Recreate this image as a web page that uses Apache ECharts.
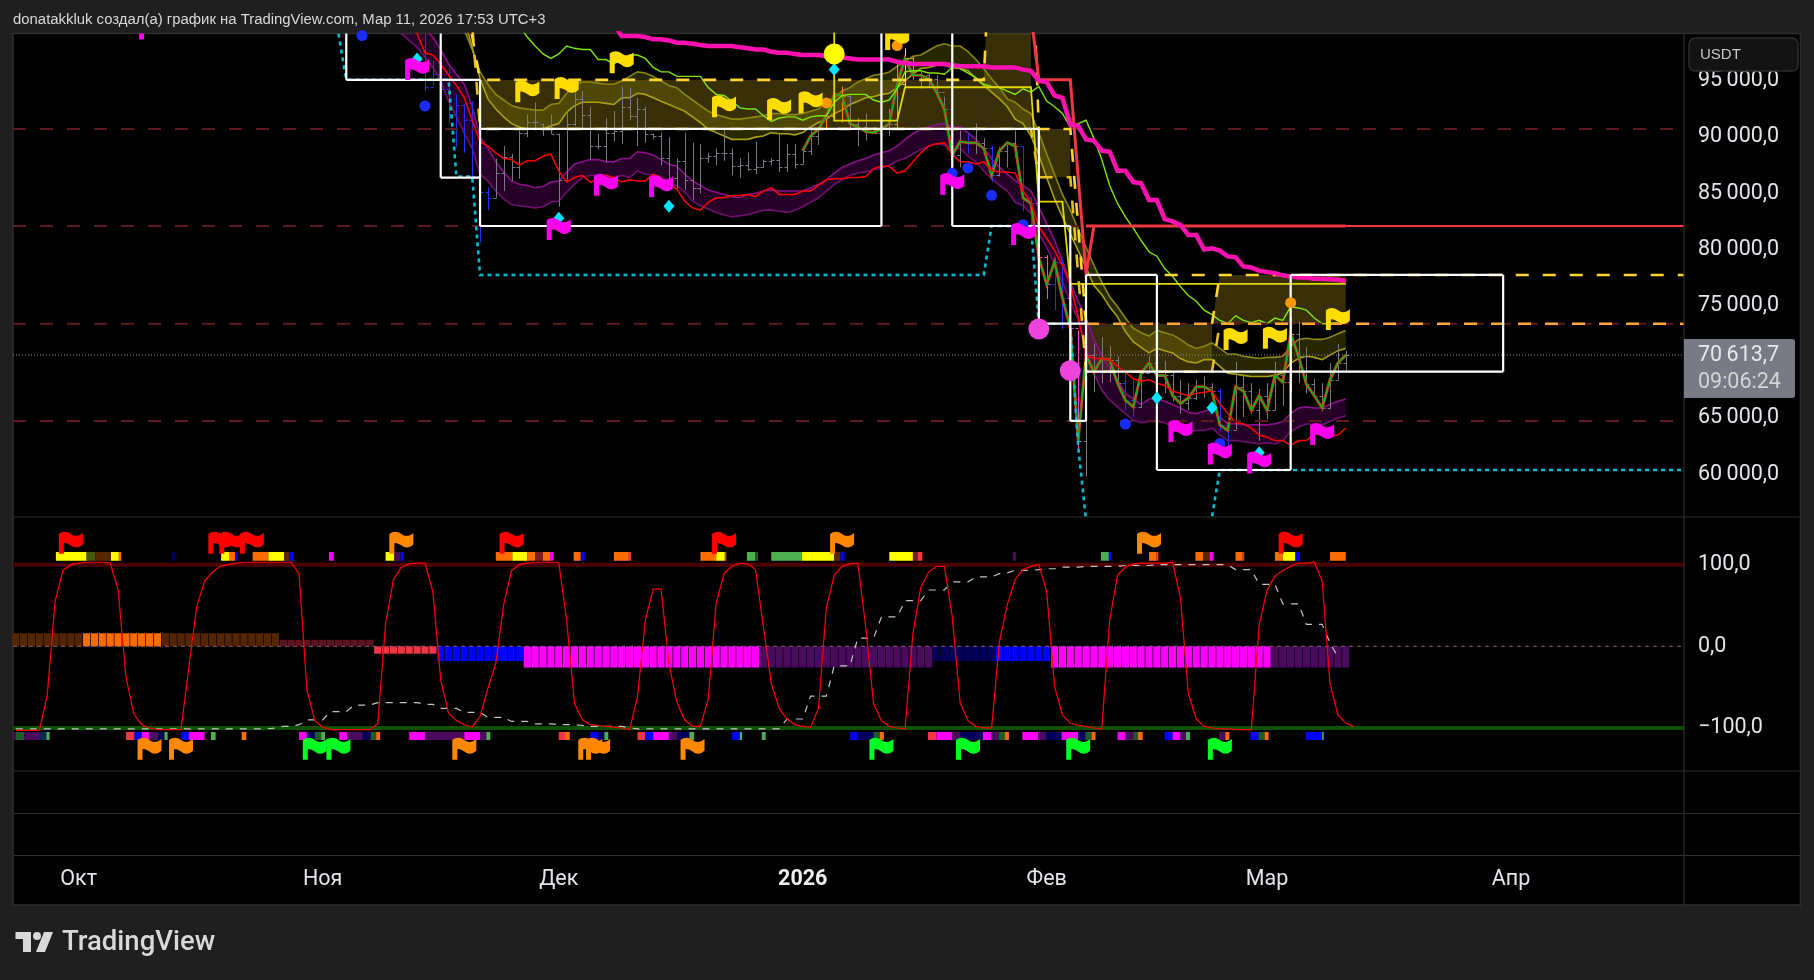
<!DOCTYPE html>
<html><head><meta charset="utf-8">
<script src="https://cdn.jsdelivr.net/npm/echarts@6/dist/echarts.min.js"></script>
<style>html,body{margin:0;padding:0;background:#1f1f1f}#c{width:1814px;height:980px}</style>
</head><body><div id="c"></div>
<script>
// x values are days counted from 1 Oct 2025
const monthDays=[0,31,61,92,123,151,182];
const monthLabels=['Окт','Ноя','Дек','2026','Фев','Мар','Апр'];
const priceTicks=[60000,65000,70000,75000,80000,85000,90000,95000];
const priceTickLabels=['60\u2009000,0','65\u2009000,0','70\u2009000,0','75\u2009000,0','80\u2009000,0','85\u2009000,0','90\u2009000,0','95\u2009000,0'];
const oscTicks=[-100,0,100];
const oscTickLabels=['\u2212100,0','0,0','100,0'];
const lastPrice=70613.7;
const dashedLevels=[90727,82090,73400,64750];

// OHLC bars, first bar is day 44
const barsStart=44;
const barHigh=[99800,96800,96600,96100,93800,92900,93200,87500,85500,88100,89200,88500,90600,92000,93100,91200,92000,90300,92300,94200,94100,92700,90300,91700,92300,94500,94400,93500,92700,90300,90400,90000,88100,90400,89500,89400,88600,89000,90700,89000,88100,88600,89600,88000,88100,90400,89400,89400,
88800,91000,90700,91600,94700,94500,93700,91700,92100,90900,91000,92500,96800,97900,97200,95800,95600,95500,93600,92900,90600,90400,91200,89900,89200,89100,89300,90600,89200,84600,84200,79500,79300,79200,76900,72800,71200,71600,72200,71400,70500,69100,68400,68700,70500,69700,70100,69200,68400,68100,68400,68700,68100,67600,64800,70000,68800,68100,67600,68100,70000,69400,74000,73600,71300,68500,68100,69900,71600,71000];
const barLow=[94100,94600,93000,91300,89100,88600,86200,80600,83500,84600,85200,86100,86300,90000,90600,90100,90300,83800,86200,91000,90700,88000,88900,87800,89600,89400,91500,89200,89500,89800,87500,85200,85200,85300,84400,85000,87700,87500,87900,86600,86400,87000,86700,87300,87500,86900,86900,87200,
87600,88400,89300,90600,91400,91300,90700,89200,89700,90300,90300,90100,90700,94400,95100,94300,94400,93500,92100,87800,87300,88500,88500,88800,86000,86500,87300,88200,83400,81100,73400,75600,74600,72900,72800,62200,59800,67300,68100,68200,67900,65700,65100,65900,69000,67700,67200,66500,65400,65700,66600,66800,67200,63900,62500,64000,65100,65400,63000,64900,65700,66100,67300,68100,67200,67200,65600,65800,68400,69000];
const barOpen=[99700,94500,95600,94300,92100,92900,91500,86500,85100,84600,86800,88200,87300,90400,91300,91200,90700,90300,86200,91200,93400,92000,89200,89200,90400,90500,92700,91900,92500,90300,90100,88100,86400,87900,86200,85500,88100,88300,88600,88600,87400,87500,87200,87300,87900,88000,87300,88500];
const barClose=[94500,95600,94300,92100,92900,91500,86500,85100,84600,86800,88200,87300,90400,91300,91300,90700,90300,86200,91200,93400,92000,89200,89200,90400,90500,92700,91900,92500,90300,90100,88100,86400,87900,86200,85500,88100,88300,88600,88600,87400,87500,87200,87300,87900,88000,87300,88500,87600];
// closing price line, first point is day 92
const closeStart=92;
const closeLine=[88800,90100,90700,91900,93800,93700,91200,90900,90500,90400,90700,91200,94700,97000,95500,95500,95200,94000,92500,88400,89600,89500,89500,89000,86600,88800,89500,89200,84600,84100,79300,76900,78900,75700,73000,63000,70600,69100,70300,70200,68100,66600,66000,69000,69900,68800,68800,67000,66300,66800,67800,67800,67400,64400,63900,67800,67400,65700,67000,65700,68800,68200,72500,70500,68000,67000,65900,68400,69900,70600];
const blueBars=[44,45,46,47,48,49,50,51,52,111,113,116,120,121,124,125,133,134,145,146];
const pinkBars=[122,123,126,127];
const orangeBars=[95,96,97,104,106,154];
const yellowBars=[105];

const redStart=42;
const redLine=[101000,99200,97500,97300,96500,95500,94600,93500,91500,89600,89200,88600,88100,88000,87500,87900,87900,88300,88500,87000,86000,86400,86600,86000,86200,86600,86400,86000,86200,86100,86100,86700,86400,85700,85400,84300,83700,83500,84200,84600,84600,84800,84800,84900,84700,85200,85500,84900,84900,84900,85200,85200,85700,86200,86300,86300,86400,86400,86500,87200,87400,87400,86800,87000,87800,88600,89200,89400,89500,88400,87800,87800,87600,87800,87000,86900,86900,86800,85200,84200,82000,81000,79900,78600,76900,74000,70600,70300,70300,70200,69600,69100,68500,68300,68400,68100,67900,67400,67200,67000,67200,67300,67400,66300,65400,64600,64500,64100,63500,63300,63000,63000,62600,63000,63000,63600,63500,63400,63500,64100];
const limeStart=56;
const limeLine=[99900,98900,98100,97400,97000,97400,98100,97900,97800,97800,96900,96900,96500,97000,97300,97300,97000,96200,95800,95800,95400,95400,95400,95400,94400,93800,93700,93200,92600,92500,92500,91900,91400,91700,91800,91800,91500,91800,91900,91900,93100,93700,93800,93800,93800,93300,93100,93300,94300,95800,95900,95900,95700,95700,95600,96200,96100,95700,95300,94700,94500,94400,94100,93800,94300,94000,94500,93200,92700,92100,90900,91200,91500,89900,88000,85700,84100,82900,81900,80800,79800,79400,78300,77600,76700,75900,75400,74600,74200,73700,73400,74100,73700,73500,73700,73400,73900,73700,74900,74800,74600,73900,73400,73400,73500];
const magentaStart=68;
const magentaLine=[100000,99000,99000,99000,98900,98700,98700,98600,98400,98400,98300,98200,98100,98100,98100,98100,98000,97900,97800,97800,97600,97500,97500,97400,97300,97300,97300,97200,97200,97100,97000,96900,96900,96900,96900,96900,96700,96600,96500,96500,96500,96500,96500,96400,96300,96300,96300,96300,96200,96200,96200,96200,96000,95900,95000,94900,93700,93500,91100,91000,89800,89700,88800,88700,87000,87000,86000,85900,84400,84400,82700,82500,82200,81300,81300,80000,80100,79900,79400,79300,78500,78400,78100,78000,77900,77700,77600,77500,77500,77400,77400,77350,77300,77200];
const oliveStart=49;
const oliveUpper=[99500,97800,95800,94700,93800,93300,92800,92600,92500,92400,92400,92900,93000,93900,94600,94900,94900,94800,94700,94700,95000,95400,95800,95700,95400,95000,94600,94400,93800,93300,92800,92300,92000,91800,91600,91600,91700,91800,91900,92100,92100,92000,92000,92100,92300,92500,93200,93500,94100,94400,94900,95200,95500,95600,95800,96300,96700,97200,97300,97700,98100,98300,98100,98100,97600,96900,96100,95200,94400,93400,93100,92500,92100,90400,88500,86700,84900,83500,81800,80200,78600,77100,75800,74900,73900,73000,72600,72300,72800,72600,72400,72000,71500,71200,71400,71700,71200,70700,70700,70500,70400,70300,70400,70400,70500,71400,72000,72100,72000,72000,72200,72500,72800];
const oliveLower=[100500,98000,95200,93400,92500,91800,91200,90900,90700,90700,90700,91000,91200,92200,92800,93100,93100,93100,93000,92900,93500,93500,93900,93800,93500,93200,92900,92600,92300,91800,91300,90700,90400,90100,89800,89800,89800,90000,90100,90400,90300,90300,90200,90400,90900,91300,91600,92100,92400,92900,93200,93500,93600,93800,93900,94400,95000,95600,96100,96200,96400,96400,96200,96100,95900,95200,94600,94000,93400,92700,91600,91200,90100,88400,86400,84500,82900,81400,79900,78400,76800,76000,74900,74000,72700,71800,71300,70800,71200,71000,70800,70300,70000,69900,70200,70200,69600,69000,68900,68800,68700,68700,68700,68800,69000,69900,70300,70500,70400,70200,70600,71000,71200];
const purpleStart=41;
const purpleUpper=[101300,100700,100100,99600,98900,97800,96500,95600,94700,92700,90000,89000,87800,86900,86100,85800,85700,85500,85600,86000,86100,86900,87600,87800,88000,88000,87800,87800,88100,88100,88700,88600,88400,88000,87600,87400,86700,86100,85700,85300,85100,84900,84700,84600,84900,85000,85200,85300,85200,85200,85200,85200,85500,85800,86200,86800,87300,87600,87900,88100,88400,88600,88800,89200,89800,90300,90700,90900,91100,91200,90900,90900,90400,89800,89000,88100,87300,86700,86100,85700,85200,83800,82300,80800,79000,77100,75400,73900,72000,70600,69400,68400,67200,66700,66200,66700,66700,66500,66200,65900,65500,65400,65600,65800,65100,64500,64500,64400,64400,64400,64400,64500,64700,65400,65900,66000,65900,65900,66200,66500,66700];
const purpleLower=[99200,98600,98000,97100,96200,95000,93200,91800,90300,89000,86700,86100,85200,84500,84000,83900,83800,83700,83800,84200,84300,85100,85800,86400,86600,86600,86400,86300,86600,86400,87000,86700,86600,86300,85800,85700,85100,84300,83900,83600,83300,83100,82900,83000,83100,83300,83500,83500,83400,83300,83500,83800,84200,84600,85200,85800,86200,86600,86800,86900,87100,87200,87500,87900,88100,88500,88900,89200,89400,89300,89000,89000,88300,87800,87000,86300,85700,85200,84200,83900,83200,81400,80200,78700,77100,75400,73700,71400,69000,67500,66600,66000,65400,64800,64600,64700,64700,64600,64200,63900,63800,63900,63900,64100,63500,63000,63000,62900,62800,62700,62800,62700,63000,63800,64200,64500,64400,64400,64700,65000,65200];

const thickRedDays=[121,122,126,128,129,161];
const thickRedValues=[101000,95100,95100,77800,82090,82090];
const redShelfDays=[128,129];
const redShelfValues=[82090,82090];
const redTailDays=[161,204];
const redTailValues=[82090,82090];
const yellowStepDays=[96,96,104,105,121,122,125,126,161];
const yellowStepValues=[110000,91469,91469,94436,94436,84260,84260,76933,76933];
const dashUpperDays=[49,50,51,115,116,121,122,126,128];
const dashUpperValues=[101500,99000,95088,95088,110000,110000,90727,90727,73400];
const dashLowerDays=[49,50,51,121,122,126,128,144,145];
const dashLowerValues=[102000,100000,90727,90727,86425,86425,69130,69130,73400];
const dashRiseDays=[144,145];
const dashRiseValues=[73400,77734];
const dashTopDays=[138,204];
const dashTopValues=[77734,77734];
const dashMidDays=[128,204];
const dashMidValues=[73400,73400];
const cyanDays=[33,34,47,48,50,51,115,116,121,122,126,127,128,129,143,144,145,204];
const cyanValues=[99200,95100,95100,86484,86484,77734,77734,82090,82090,73400,73400,62450,55900,50000,50000,56200,60380,60380];
// zones: first day, last day, upper edge, lower edge
const zoneDays=[[51,115],[115,116],[116,121],[122,126],[128,144],[144,145],[145,161]];
const zoneUpper=[[95088,95088],[95088,110000],[110000,110000],[90727,90727],[73400,73400],[73400,77734],[77734,77734]];
const zoneLower=[[90727,90727],[90727,90727],[90727,90727],[86425,86425],[69130,69130],[73400,73400],[73400,73400]];
// white box edges: x0, value0, x1, value1
const boxEdges=[[34,95100,51,95100],[34,95100,34,110000],[46,86400,46,110000],[46,86400,51,86400],[51,95100,51,82090],[51,90727,122,90727],[51,82090,102,82090],[102,82090,102,110000],[111,82090,111,110000],[111,82090,126,82090],[122,90727,122,73400],[122,73400,128,73400],[126,82090,126,64750],[126,64750,128,64750],[128,77734,128,64750],[128,77734,137,77734],[137,77734,137,60380],[137,60380,154,60380],[154,77734,154,60380],[128,69130,181,69130],[154,77734,181,77734],[181,77734,181,69130]];

const blueDots=[[36,99035],[44,92774],[111,86780],[113,87256],[116,84823],[120,82211],[133,64471],[145,62750]];
const cyanDiamonds=[[43,96958],[61,82775],[75,83844],[96,96008],[137,66786],[144,65925],[150,61920]];
const yellowDots=[[96,97403]];
const orangeDots=[[95,93041],[104,98145],[154,75271]];
const pinkDots=[[122,72925],[126,69219]];
const magentaFlags=[[9.2,99672],[43,96068],[61,81826],[67,85772],[74,85624],[111,85832],[120,81381],[140,63848],[145,61860],[150,61059],[158,63581]];
const yellowFlags=[[57,94080],[62,94376],[69,96660],[82,92745],[89,92507],[93,93100],[104,98738],[147,72037],[152,72156],[160,73817]];

// oscillator pane
const oscStart=-8;
const oscRed=[-103,-103,-103,-103,-60,55,93,100,102,103,103,103,102,70,-37,-83,-96,-100,-102,-102,-102,-102,-25,49,80,91,98,100,102,103,103,103,103,103,103,103,89,-53,-91,-99,-102,-102,-102,-102,-102,-102,-95,28,82,97,101,102,102,67,-41,-82,-91,-96,-99,-86,-51,-21,51,93,100,102,103,103,103,103,32,-70,-90,-96,-97,-98,-99,-100,-102,-62,32,70,70,-21,-68,-90,-98,-98,-64,53,89,98,102,101,94,24,-45,-76,-89,-96,-98,-99,-76,47,87,98,101,102,24,-70,-91,-98,-100,-101,16,72,91,98,98,36,-69,-91,-98,-100,-100,6,51,82,94,98,100,67,-49,-84,-94,-97,-98,-100,-101,32,87,97,101,102,102,102,102,103,59,-58,-89,-98,-100,-101,-101,-102,-102,-102,26,69,86,93,98,102,102,103,80,-45,-84,-94,-98];
const oscGray=[-101,-101,-101,-101,-101,-101,-101,-101,-101,-101,-101,-101,-101,-101,-101,-101,-101,-101,-101,-101,-101,-101,-101,-101,-101,-101,-101,-101,-101,-101,-101,-101,-101,-100,-98,-98,-96,-90,-90,-90,-80,-80,-80,-72,-72,-72,-69,-69,-69,-69,-69,-69,-71,-71,-76,-76,-76,-81,-81,-81,-87,-87,-87,-92,-92,-92,-95,-95,-95,-96,-96,-96,-97,-98,-98,-98,-98,-98,-100,-101,-101,-101,-101,-101,-101,-101,-101,-101,-101,-101,-101,-101,-101,-101,-101,-101,-101,-101,-89,-89,-89,-61,-61,-61,-24,-24,-24,10,10,10,36,36,36,56,56,56,69,69,69,79,79,79,85,85,85,89,90,93,93,93,94,95,95,97,97,97,98,98,98,98,98,99,99,99,99,100,100,100,100,100,100,100,100,100,100,94,94,94,76,76,76,52,52,52,27,27,27,4,-13];
// histogram runs: first day, last day, value, colour
const histRuns=[[-8,0,16,'#552400'],[1,10,16,'#ff6d00'],[11,25,16,'#552400'],[26,37,8,'#5a1520'],[38,45,-9,'#f23645'],[46,56,-18,'#0000ff'],[57,86,-26,'#ff00ff'],[87,108,-26,'#4a0a5e'],[109,116,-18,'#00005c'],[117,123,-18,'#0000ff'],[124,151,-26,'#ff00ff'],[152,161,-26,'#4a0a5e']];
const Y='#ffff00',O='#ff6d00',B='#0000ff',M='#ff00ff',P='#4a0a5e',N='#00005c',G='#4caf50',D='#1f5a2a',W='#5a2800',R='#f23645',K='#7a2020';
const topStrip=[[-2.9,1,Y],[1,2.1,'#4a5a10'],[2.1,4.1,W],[4.1,5.1,Y],[5.1,5.4,O],[11.8,12.3,N],[18.1,19.1,Y],[19.1,19.9,O],[19.9,20.2,B],[22.1,24.1,O],[24.1,26.1,Y],[26.1,26.8,W],[26.8,27.3,B],[31.8,32.4,M],[39,40.1,Y],[40.1,40.9,P],[40.9,41.3,B],[53,55.1,O],[55.1,57,Y],[57,58,O],[58,59,K],[59,59.9,O],[59.9,60.3,M],[62.9,63.8,O],[63.8,64.3,B],[68,69.9,O],[69.9,70.2,R],[79,81,O],[81,82.1,Y],[82.1,82.3,R],[84.9,86,G],[86,86.3,D],[88,91.9,G],[91.9,96,Y],[96,96.8,W],[96.8,97.3,B],[103,106,Y],[106,106.6,K],[106.6,107.2,R],[118.7,119.1,P],[129.9,130.9,G],[130.9,131.2,B],[136,136.9,O],[136.9,137.2,R],[141.9,142.9,O],[142.9,143.7,W],[143.7,144.2,M],[147,147.9,O],[147.9,148.1,R],[152,153,O],[153,154.6,Y],[154.6,155.2,B],[159,161,O]];
const bottomStrip=[[-8.4,-8,P],[-8,-6.9,D],[-6.9,-4.9,P],[-4.9,-4.1,'#0a2a50'],[-4.1,-3.7,G],[6,7.1,R],[7.1,8,B],[8,9,M],[9,10.1,P],[10.1,10.9,N],[10.9,11.3,G],[13,14,B],[14,16,M],[16.8,17.4,G],[20.7,21.3,O],[28,29,M],[29,30,N],[30,30.8,D],[30.8,31.3,G],[33.1,34.1,M],[34.1,36.1,P],[36.1,37.1,N],[37.1,37.8,D],[37.8,38.3,O],[42,44,M],[44,49,P],[49,51,M],[51,51.8,P],[51.8,52.3,G],[61,61.8,R],[61.8,62.4,O],[65,66,B],[66,66.8,N],[66.8,67.3,G],[71,72,R],[72,73,B],[73,75,M],[75,76.1,P],[76.1,77.6,N],[77.6,78.2,G],[83,84,B],[84,84.3,G],[86.8,87.3,G],[98,99,B],[99,101,N],[101,101.8,D],[101.8,102.3,O],[107.9,109,R],[109,111,M],[111,112,P],[112,114.9,N],[114.9,116,M],[116,116.9,P],[116.9,117.7,D],[117.7,118.2,O],[119.9,121.9,M],[121.9,122.9,P],[122.9,124.9,N],[124.9,127,M],[127,127.9,N],[127.9,128.7,D],[128.7,129.2,O],[132,133,M],[133,134,P],[134,134.6,D],[134.6,135.2,O],[138,139,B],[139,140,M],[140,140.7,P],[140.7,141.2,G],[144.9,145.7,P],[145.7,146.2,O],[148.9,149.9,B],[149.9,150.7,D],[150.7,151.2,O],[155.9,158,B],[158,158.2,G]];
const stripTopBand=[104.8,115.5], stripBottomBand=[-114.7,-104.9];
const redFlagsOsc=[[-1,127],[18,127],[19.4,127],[22,127],[55,127],[82,127],[154,127]];
const orangeFlagsOsc=[[41,127],[97,127],[136,127],[9,-125.4],[13,-125.4],[49,-125.4],[65,-125.4],[66,-125.4],[78,-125.4]];
const greenFlagsOsc=[[30,-125.4],[33,-125.4],[102,-125.4],[113,-125.4],[127,-125.4],[145,-125.4]];

// ---------- helpers ----------
const X0=-8.348,X1=203.98;
const FLAG='M0,3C4,0 8,0 12,3C16,6 20,5 24,2L24,13C20,17 16,17 12,14C9,12 6,11 5,12L5,22L0,22Z';
const seq=(s,a)=>a.map((v,i)=>[s+i,v]);
const zip=(a,b)=>a.map((v,i)=>[v,b[i]]);
function line(data,color,width,dash,extra){return Object.assign({type:'line',data,symbol:'none',clip:true,silent:true,animation:false,xAxisIndex:0,yAxisIndex:0,lineStyle:{color,width,type:dash||'solid',cap:'butt',join:'miter'},emphasis:{disabled:true}},extra||{});}
function band(start,up,lo,fill){
  return {type:'custom',xAxisIndex:0,yAxisIndex:0,clip:true,silent:true,animation:false,data:[[start,up[0]]],renderItem:(p,api)=>{
    const pts=[];up.forEach((v,i)=>pts.push(api.coord([start+i,v])));
    for(let i=lo.length-1;i>=0;i--)pts.push(api.coord([start+i,lo[i]]));
    return {type:'polygon',shape:{points:pts},style:{fill}};
  }};
}
function zones(fill){
  return {type:'custom',xAxisIndex:0,yAxisIndex:0,clip:true,silent:true,animation:false,data:zoneDays.map((d,i)=>[d[0],i]),renderItem:(p,api)=>{
    const i=p.dataIndex,d=zoneDays[i],u=zoneUpper[i],l=zoneLower[i];
    return {type:'polygon',shape:{points:[api.coord([d[0],u[0]]),api.coord([d[1],u[1]]),api.coord([d[1],l[1]]),api.coord([d[0],l[0]])]},style:{fill}};
  }};
}
function flags(data,color,ax){
  ax=ax||0;
  return {type:'custom',xAxisIndex:ax,yAxisIndex:ax,clip:true,silent:true,animation:false,data,renderItem:(p,api)=>{
    const c=api.coord([api.value(0),api.value(1)]);
    return {type:'path',shape:{pathData:FLAG,x:c[0]-12,y:c[1]-11,width:24,height:22,layout:'cover'},style:{fill:color}};
  }};
}
function dots(data,color,size,symbol){return {type:'scatter',xAxisIndex:0,yAxisIndex:0,clip:true,silent:true,animation:false,data,symbol:symbol||'circle',symbolSize:size,itemStyle:{color,opacity:1}};}
function strip(data,band){
  return {type:'custom',xAxisIndex:1,yAxisIndex:1,clip:true,silent:true,animation:false,data:data.map(s=>[s[0],s[1]]),renderItem:(p,api)=>{
    const a=api.coord([api.value(0),band[1]]),b=api.coord([api.value(1),band[0]]);
    return {type:'rect',shape:{x:a[0],y:a[1],width:b[0]-a[0],height:b[1]-a[1]},style:{fill:data[p.dataIndex][2]}};
  }};
}
// bars
const allClose=barClose.concat(closeLine);
const barData=barHigh.map((h,i)=>{
  const o=i<barOpen.length?barOpen[i]:allClose[i-1];
  return [barsStart+i,o,h,barLow[i],allClose[i]];
});
const barColor=d=>blueBars.includes(d)?'#1e33ff':pinkBars.includes(d)?'#ff44dd':orangeBars.includes(d)?'#ff8c00':yellowBars.includes(d)?'#ffee00':'#787b86';
const ohlc={type:'custom',xAxisIndex:0,yAxisIndex:0,clip:true,silent:true,animation:false,data:barData,renderItem:(p,api)=>{
  const d=api.value(0),o=api.coord([d,api.value(1)]),h=api.coord([d,api.value(2)]),l=api.coord([d,api.value(3)]),c=api.coord([d,api.value(4)]);
  const st={stroke:barColor(d),lineWidth:1,fill:null},x=Math.round(c[0])+.5;
  return {type:'group',children:[
    {type:'line',shape:{x1:x,y1:h[1],x2:x,y2:l[1]},style:st},
    {type:'line',shape:{x1:x-3,y1:Math.round(o[1])+.5,x2:x,y2:Math.round(o[1])+.5},style:st},
    {type:'line',shape:{x1:x,y1:Math.round(c[1])+.5,x2:x+3,y2:Math.round(c[1])+.5},style:st}]};
}};
const boxes={type:'custom',xAxisIndex:0,yAxisIndex:0,clip:true,silent:true,animation:false,data:boxEdges,renderItem:(p,api)=>{
  const a=api.coord([api.value(0),api.value(1)]),b=api.coord([api.value(2),api.value(3)]);
  return {type:'line',shape:{x1:a[0],y1:a[1],x2:b[0],y2:b[1]},style:{stroke:'#ffffff',lineWidth:2.2}};
}};

const series=[
  zones('rgba(255,215,40,0.22)'),
  band(oliveStart,oliveUpper,oliveLower,'rgba(128,128,0,0.30)'),
  band(purpleStart,purpleUpper,purpleLower,'rgba(128,0,128,0.30)'),
  line(seq(oliveStart,oliveUpper),'#8a8610',1.6),
  line(seq(oliveStart,oliveLower),'#a8a010',1.6),
  line(seq(purpleStart,purpleUpper),'#8a0f8a',1.6),
  line(seq(purpleStart,purpleLower),'#700f70',1.6),
  ohlc,
  line(seq(closeStart,closeLine),'#c8321e',3),
  line(seq(closeStart,closeLine),'#14b414',1.5),
  line(seq(redStart,redLine),'#ff0000',1.5),
  line(seq(limeStart,limeLine),'#7fe600',1.4),
  line(zip(yellowStepDays,yellowStepValues),'#e0d800',1.8),
  ...dashedLevels.map(v=>line([[X0,v],[X1,v]],'#5c1a1f',2,[13,14])),
  line(zip(dashLowerDays,dashLowerValues),'#e8c020',2.6,[13,14]),
  line(zip(dashUpperDays,dashUpperValues),'#ffd533',2.6,[13,14]),
  line(zip(dashRiseDays,dashRiseValues),'#ffd533',2.6,[13,14]),
  line(zip(dashTopDays,dashTopValues),'#ffd533',2.6,[13,14]),
  line(zip(dashMidDays,dashMidValues),'#ffa53a',2.6,[13,14]),
  line([[X0,lastPrice],[X1,lastPrice]],'#8a8a8a',1,[1,2]),
  line(zip(cyanDays,cyanValues),'#00bcd4',2.6,[4,4]),
  line(zip(thickRedDays,thickRedValues),'#f23645',3),
  line(zip(redShelfDays,redShelfValues),'#f23645',3),
  line(zip(redTailDays,redTailValues),'#f23645',2),
  line(seq(magentaStart,magentaLine),'#ff10b0',4.5),
  boxes,
  dots(blueDots,'#1a2cff',11),
  dots(cyanDiamonds,'#00e5ff',[11,13],'diamond'),
  dots(yellowDots,'#ffff00',21),
  dots(orangeDots,'#ff9800',11),
  dots(pinkDots,'#ee44dd',21),
  flags(magentaFlags,'#ff00ee'),
  flags(yellowFlags,'#ffdd00'),
  // pane 2
  {type:'bar',xAxisIndex:1,yAxisIndex:1,barWidth:7.2,silent:true,animation:false,barGap:'-100%',
   data:histRuns.flatMap(r=>{const o=[];for(let d=r[0];d<=r[1];d++)o.push({value:[d,r[2]],itemStyle:{color:r[3]}});return o;})},
  line([[X0,100],[X1,100]],'#4d0000',4,'solid',{xAxisIndex:1,yAxisIndex:1}),
  line([[X0,-100],[X1,-100]],'#0a5200',4,'solid',{xAxisIndex:1,yAxisIndex:1}),
  line([[X0,0],[X1,0]],'#8a5a7a',1,[4,4],{xAxisIndex:1,yAxisIndex:1}),
  strip(topStrip,stripTopBand),
  strip(bottomStrip,stripBottomBand),
  line(seq(oscStart,oscGray),'#c4c4c4',1.2,[7,7],{xAxisIndex:1,yAxisIndex:1}),
  line(seq(oscStart,oscRed),'#ff0000',1.2,'solid',{xAxisIndex:1,yAxisIndex:1}),
  flags(redFlagsOsc,'#ff0000',1),
  flags(orangeFlagsOsc,'#ff8800',1),
  flags(greenFlagsOsc,'#00ff22',1),
];
series.forEach((s,i)=>{s.z=2+i;});
const LBL='#e3e5ea',FONT='Roboto';
const valueLabel=(list,labels)=>({show:true,customValues:list,formatter:v=>labels[list.indexOf(v)],color:LBL,fontSize:21.5,fontFamily:FONT,margin:14,hideOverlap:false,showMinLabel:true,showMaxLabel:true});
const hideX=i=>({type:'value',gridIndex:i,min:X0,max:X1,show:false});
const sep=(x1,y1,x2,y2,c)=>({type:'line',z:50,shape:{x1,y1,x2,y2},style:{stroke:c||'#2e2e2e',lineWidth:1.2}});
const txt=(text,x,y,font,fill)=>({type:'text',z:110,x,y,style:{text,font,fill,verticalAlign:'middle'}});
const graphic=[
  {type:'rect',z:-10,shape:{x:13,y:33.5,width:1787.5,height:871.5},style:{fill:'#000',stroke:'#2e2e2e',lineWidth:1.5}},
  sep(13,517,1800,517),sep(13,771,1800,771),sep(13,813.5,1800,813.5),sep(13,855.5,1800,855.5),sep(1684,33.5,1684,905),
  txt('donatakkluk создал(а) график на TradingView.com, Мар 11, 2026 17:53 UTC+3',13,20,'14.9px "Liberation Sans"','#d8d8d8'),
  {type:'rect',z:100,shape:{x:1689,y:38,width:109,height:33,r:6},style:{fill:'#131313',stroke:'#2e2e2e',lineWidth:1.5}},
  txt('USDT',1700,55,'15px "Liberation Sans"','#c8c8c8'),
  {type:'rect',z:100,shape:{x:1684,y:339,width:111,height:59,r:[0,3,3,0]},style:{fill:'#787b86'}},
  txt('70\u2009613,7',1698,356,'21.5px Roboto','#e8e8e8'),
  txt('09:06:24',1698,383,'21.5px Roboto','#d4d4d4'),
  // logo
  {type:'polygon',z:100,shape:{points:[[15.5,932],[31,932],[31,952],[23,952],[23,939],[15.5,939]]},style:{fill:'#d9d9d9'}},
  {type:'circle',z:100,shape:{cx:37,cy:936,r:4},style:{fill:'#d9d9d9'}},
  {type:'polygon',z:100,shape:{points:[[44,932],[53,932],[45,952],[36,952]]},style:{fill:'#d9d9d9'}},
  txt('TradingView',62,943,'500 27.5px Roboto','#d9d9d9'),
];
const option={
  backgroundColor:'#1f1f1f',animation:false,graphic,
  grid:[{left:13,top:33.5,width:1671,height:483},{left:13,top:517,width:1671,height:254},{left:13,top:771,width:1671,height:84.5}],
  xAxis:[hideX(0),hideX(1),{type:'value',gridIndex:2,min:X0,max:X1,position:'bottom',axisLine:{show:false},axisTick:{show:false},splitLine:{show:false},
    axisLabel:{customValues:monthDays,formatter:v=>{const s=monthLabels[monthDays.indexOf(v)];return s==='2026'?'{b|'+s+'}':s;},color:LBL,fontSize:21.5,fontFamily:FONT,margin:13,rich:{b:{fontWeight:'bold',fontSize:21.5,fontFamily:FONT,color:'#f0f0f0'}}}}],
  yAxis:[
    {type:'value',gridIndex:0,position:'right',min:56245,max:99218,axisLine:{show:false},axisTick:{show:false},splitLine:{show:false},axisLabel:valueLabel(priceTicks,priceTickLabels)},
    {type:'value',gridIndex:1,position:'right',min:-152.7,max:158.4,axisLine:{show:false},axisTick:{show:false},splitLine:{show:false},axisLabel:valueLabel(oscTicks,oscTickLabels)},
    {type:'value',gridIndex:2,position:'right',min:0,max:1,show:false}],
  series
};
echarts.init(document.getElementById('c'),null,{renderer:'canvas'}).setOption(option);
</script></body></html>
